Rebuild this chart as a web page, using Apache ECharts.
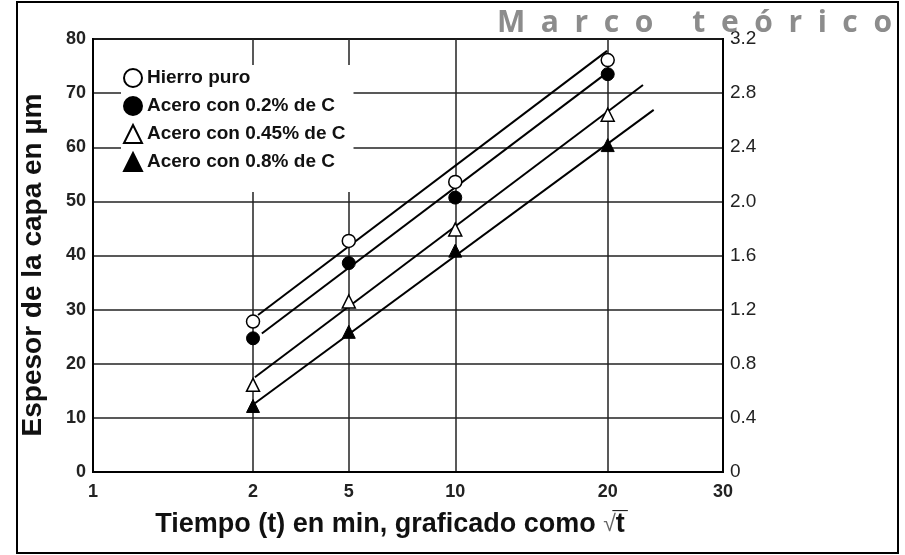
<!DOCTYPE html>
<html>
<head>
<meta charset="utf-8">
<script src="https://cdn.jsdelivr.net/npm/echarts@6/dist/echarts.min.js"></script>
<style>
  html, body { margin: 0; padding: 0; background: #fff; }
  #chart { width: 905px; height: 555px; }
</style>
</head>
<body>
<div id="chart"></div>
<script>
// Time ticks (t, in minutes) and where each sits along the horizontal scale (0–100)
const timeLabels = ['1', '2', '5', '10', '20', '30'];
const timePos = [0, 25.4, 40.6, 57.5, 81.7, 100];
const sampleTimes = ['2', '5', '10', '20'];

// Layer thickness in µm at each sample time
const hierroPuro = [27.8, 42.7, 53.6, 76.1];
const acero02 = [24.7, 38.6, 50.7, 73.5];
const acero045 = [16.1, 31.5, 44.8, 66.0];
const acero08 = [12.2, 25.9, 40.9, 60.4];

// Straight trend lines: [horizontal position, thickness] at each end
const trendHierro = [[26.2, 29.0], [81.6, 77.8]];
const trend02 = [[26.8, 25.6], [81.4, 73.6]];
const trend045 = [[25.7, 17.5], [87.3, 71.5]];
const trend08 = [[25.7, 12.7], [89.0, 66.9]];

// Right-hand scale ticks
const rightTicks = [0, 0.4, 0.8, 1.2, 1.6, 2.0, 2.4, 2.8, 3.2];

const FONT = '"Liberation Sans", Arial, sans-serif';

function points(values) {
  return sampleTimes.map((t, i) => [timePos[timeLabels.indexOf(t)], values[i]]);
}

const openStyle = { color: '#fff', borderColor: '#000', borderWidth: 1.5, opacity: 1 };
const filledStyle = { color: '#000', borderColor: '#000', borderWidth: 1, opacity: 1 };

function markers(name, values, symbol, style) {
  return {
    name: name, type: 'scatter', data: points(values),
    symbol: symbol, symbolSize: 13, itemStyle: style, z: 4, silent: true
  };
}
function trend(name, data) {
  return {
    name: name, type: 'line', data: data, symbol: 'none', silent: true, z: 3,
    lineStyle: { color: '#000', width: 2 }
  };
}

const chart = echarts.init(document.getElementById('chart'), null, { renderer: 'canvas' });
chart.setOption({
  animation: false,
  backgroundColor: '#fff',
  textStyle: { fontFamily: FONT },
  grid: {
    left: 93, right: 182, top: 39, bottom: 83,
    show: true, borderColor: '#000', borderWidth: 2, backgroundColor: 'transparent'
  },
  legend: {
    orient: 'vertical', left: 121, top: 65,
    itemWidth: 18, itemHeight: 18, itemGap: 8,
    padding: [3, 8, 20, 2],
    backgroundColor: '#fff',
    selectedMode: false,
    data: ['Hierro puro', 'Acero con 0.2% de C', 'Acero con 0.45% de C', 'Acero con 0.8% de C'],
    textStyle: { fontFamily: FONT, fontSize: 19, fontWeight: 'bold', color: '#111', lineHeight: 19 }
  },
  xAxis: {
    type: 'value', min: 0, max: 100,
    name: '{a|Tiempo (t) en min, graficado como }{r|√}{a|t\u0305}',
    nameLocation: 'middle', nameGap: 39,
    nameTextStyle: {
      padding: [0, 36, 0, 0],
      rich: {
        a: { fontFamily: FONT, fontSize: 27, fontWeight: 'bold', color: '#111' },
        r: { fontFamily: FONT, fontSize: 23, fontWeight: 'normal', color: '#666' }
      }
    },
    axisLine: { show: true, lineStyle: { color: '#000', width: 2 } },
    axisTick: { show: false, customValues: timePos },
    axisLabel: {
      customValues: timePos,
      formatter: v => timeLabels[timePos.indexOf(v)],
      fontFamily: FONT, fontSize: 18, fontWeight: 'bold', color: '#222', margin: 11
    },
    splitLine: { show: true, lineStyle: { color: '#222', width: 1.5 } }
  },
  yAxis: [
    {
      type: 'value', min: 0, max: 80, interval: 10, position: 'left',
      name: 'Espesor de la capa en µm', nameLocation: 'middle', nameGap: 46,
      nameTextStyle: { fontFamily: FONT, fontSize: 28, fontWeight: 'bold', color: '#111', padding: [0, 19, 0, 0] },
      axisLine: { show: true, lineStyle: { color: '#000', width: 2 } },
      axisTick: { show: false },
      axisLabel: { fontFamily: FONT, fontSize: 18, fontWeight: 'bold', color: '#222', margin: 7 },
      splitLine: { show: true, lineStyle: { color: '#222', width: 1.5 } }
    },
    {
      type: 'value', min: 0, max: 3.2, interval: 0.4, position: 'right',
      axisLine: { show: true, lineStyle: { color: '#000', width: 2 } },
      axisTick: { show: false },
      axisLabel: {
        fontFamily: FONT, fontSize: 19, color: '#222', margin: 7,
        customValues: rightTicks,
        formatter: v => (v === 0 ? '0' : v.toFixed(1))
      },
      splitLine: { show: false }
    }
  ],
  graphic: [
    {
      type: 'rect', z: 100, silent: true,
      shape: { x: 17, y: 2, width: 881, height: 551 },
      style: { fill: 'none', stroke: '#000', lineWidth: 2 }
    },
    {
      type: 'text', left: 497, top: 8, z: 50, silent: true,
      style: {
        text: 'M  a  r  c  o     t  e  ó  r  i  c  o',
        font: 'bold 30px "Open Sans", sans-serif',
        fill: '#8c8c8c'
      }
    }
  ],
  series: [
    trend('trend-hierro', trendHierro),
    trend('trend-02', trend02),
    trend('trend-045', trend045),
    trend('trend-08', trend08),
    markers('Hierro puro', hierroPuro, 'circle', openStyle),
    markers('Acero con 0.2% de C', acero02, 'circle', filledStyle),
    markers('Acero con 0.45% de C', acero045, 'triangle', openStyle),
    markers('Acero con 0.8% de C', acero08, 'triangle', filledStyle)
  ]
});
</script>
</body>
</html>
